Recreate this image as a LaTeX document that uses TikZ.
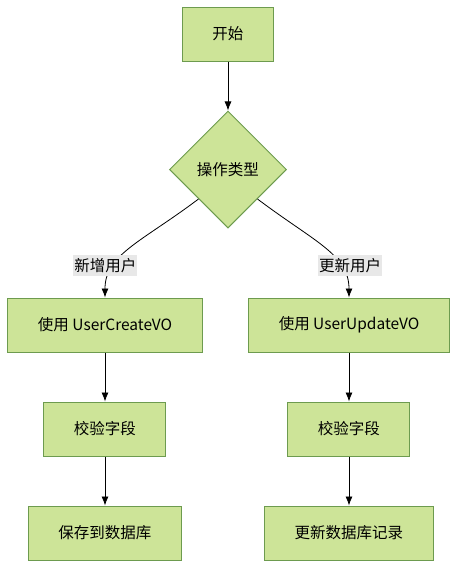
\documentclass[tikz,border=0pt]{standalone}
\usepackage{fontspec}
\setmainfont{Noto Sans CJK SC}
\usetikzlibrary{positioning,shapes.geometric,arrows.meta}
\definecolor{boxfill}{HTML}{CDE498}
\definecolor{boxline}{HTML}{6D9B4F}
\definecolor{lblfill}{HTML}{E8E8E8}

\begin{document}
\begin{tikzpicture}[x=1pt, y=1pt,
  box/.style={draw=boxline, fill=boxfill, line width=1pt, minimum height=54pt, inner xsep=30pt, font=\fontsize{15.5}{18}\selectfont},
  choice/.style={diamond, draw=boxline, fill=boxfill, line width=1pt, minimum size=117pt, inner sep=0pt, font=\fontsize{15.5}{18}\selectfont},
  flowlabel/.style={fill=lblfill, inner xsep=1pt, inner ysep=3pt, font=\fontsize{15.5}{18}\selectfont},
  flow/.style={-{Latex[length=9pt,width=7pt]}, line width=0.8pt}]

\useasboundingbox (-228,34) rectangle (236,-540);

\node[box] (start) {开始};
\node[choice] (optype) [below=49pt of start] {操作类型};
\node[box] (create) at (-123,-291) {使用 UserCreateVO};
\node[box] (update) at (121,-291) {使用 UserUpdateVO};
\node[box] (check_c) [below=49pt of create] {校验字段};
\node[box] (check_u) [below=49pt of update] {校验字段};
\node[box] (save) [below=49pt of check_c] {保存到数据库};
\node[box] (record) [below=49pt of check_u] {更新数据库记录};

\path[flow] (start) edge (optype);
\draw[flow] (optype.south west) .. controls +(-57,-43) and +(0,43) .. node[flowlabel, pos=0.7, xshift=-9pt] (lbl_new) {新增用户} (create.north);
\draw[flow] (optype.south east) .. controls +(57,-43) and +(0,43) .. node[flowlabel, pos=0.7, xshift=10pt] (lbl_upd) {更新用户} (update.north);
\path[flow] (create) edge (check_c);
\path[flow] (check_c) edge (save);
\path[flow] (update) edge (check_u);
\path[flow] (check_u) edge (record);

\end{tikzpicture}
\end{document}
